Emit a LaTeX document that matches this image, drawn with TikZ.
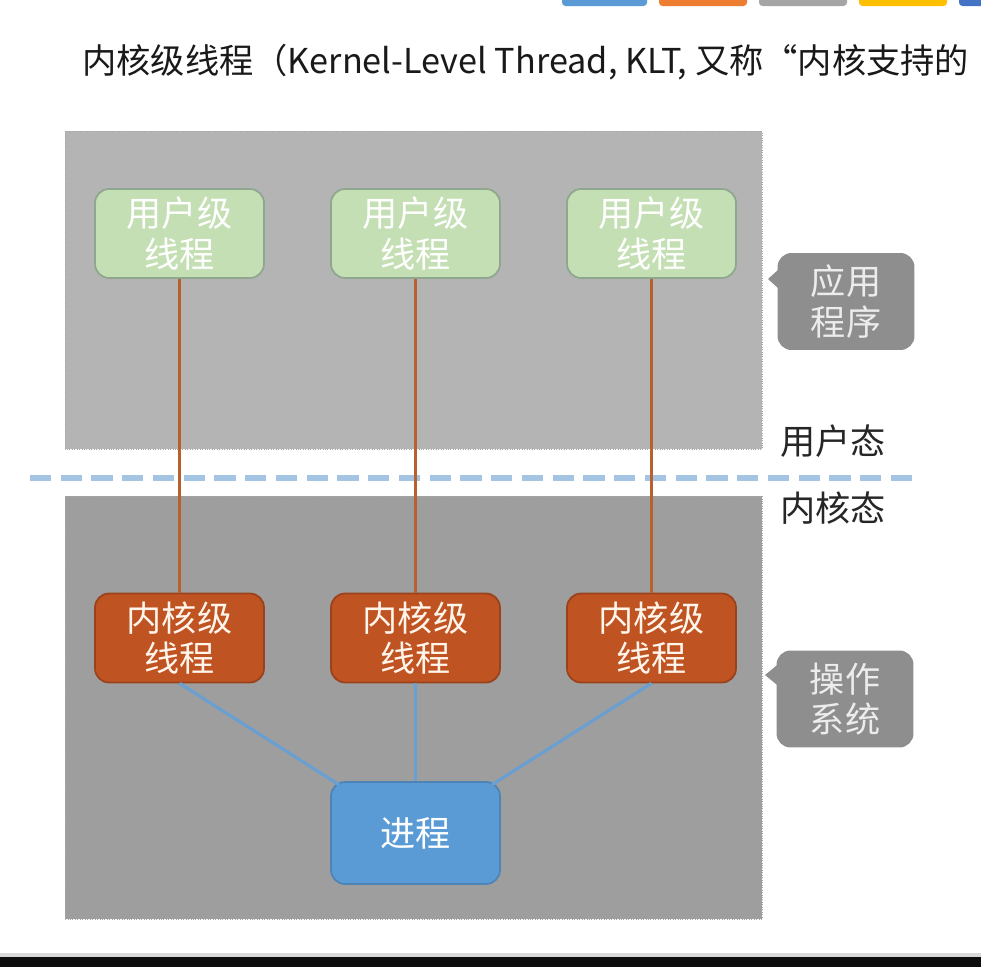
\documentclass[tikz,border=0pt]{standalone}
\usepackage{fontspec}
\setmainfont{Noto Sans CJK SC}
\usetikzlibrary{positioning}

\definecolor{zoneuser}{HTML}{B4B4B4}
\definecolor{zonenoyau}{HTML}{9E9E9E}
\definecolor{vertfond}{HTML}{C5DFB4}
\definecolor{vertbord}{HTML}{8FA68F}
\definecolor{orangek}{HTML}{BF5322}
\definecolor{orangetrait}{HTML}{B9602F}
\definecolor{bleuproc}{HTML}{5B9BD5}
\definecolor{bleutrait}{HTML}{6A9FD2}
\definecolor{bleutiret}{HTML}{A3C4E3}
\definecolor{bulle}{HTML}{8E8E8E}
\definecolor{ongleta}{HTML}{5B9BD5}
\definecolor{ongletb}{HTML}{ED7D31}
\definecolor{ongletc}{HTML}{A5A5A5}
\definecolor{ongletd}{HTML}{FFC000}
\definecolor{onglete}{HTML}{4472C4}

\tikzset{
  ult/.style={draw=vertbord, line width=1pt, fill=vertfond, rounded corners=8pt,
    minimum width=3.38cm, minimum height=1.78cm, align=center, text=white,
    font=\fontsize{20}{23}\selectfont},
  klt/.style={ult, draw=orangek!80!black, fill=orangek, text=white!92!orange},
  procbox/.style={ult, draw=bleuproc!85!black, fill=bleuproc, minimum height=2.04cm},
  bullebox/.style={fill=bulle, rounded corners=8pt,
    minimum width=2.74cm, minimum height=1.94cm, align=center, text=white!85!gray,
    font=\fontsize{20}{23}\selectfont},
  etat/.style={font=\fontsize{20}{23}\selectfont, text=black!85},
}

\begin{document}
\begin{tikzpicture}[x=0.02cm, y=-0.02cm]
	\useasboundingbox (0,0) rectangle (981,967);
	\fill[white] (0,0) rectangle (981,967);
	% les onglets en haut
	\foreach \xa/\xb/\col in {562/647/ongleta, 659/747/ongletb, 759/847/ongletc, 859/947/ongletd, 959/990/onglete}
		\fill[\col, rounded corners=2pt] (\xa,-5) rectangle (\xb,6);
	% le titre
	\node[anchor=west, inner sep=0pt, font=\fontsize{19.5}{24}\selectfont, text=black!90] (titre) at (82,62)
		{内核级线程（Kernel-Level Thread, KLT, 又称“内核支持的};
	% les deux zones
	\fill[zoneuser, draw=gray!70, densely dotted] (65,131) rectangle (762,449);
	\fill[zonenoyau, draw=gray!70, densely dotted] (65,496) rectangle (762,919);
	% la ligne en tirets
	\coordinate (gauche) at (30,478);
	\coordinate (droite) at (920,478);
	\draw[bleutiret, line width=3.4pt, dash pattern=on 12pt off 5.5pt] (gauche) -- (droite);
	\node[etat] (userstate) at (833,441) {用户态};
	\node[etat] (kernelstate) at (833,508) {内核态};
	% les threads
	\node[ult] (u1) at (179.5,233.5) {用户级\\线程};
	\node[ult] (u2) at (415.5,233.5) {用户级\\线程};
	\node[ult] (u3) at (651.5,233.5) {用户级\\线程};
	\node[klt] (k1) at (179.5,638) {内核级\\线程};
	\node[klt] (k2) at (415.5,638) {内核级\\线程};
	\node[klt] (k3) at (651.5,638) {内核级\\线程};
	\node[procbox] (proc) at (415.5,833) {进程};
	% les liens
	\foreach \i in {1,2,3}
		\draw[orangetrait, line width=1.2pt] (u\i.south) -- (k\i.north);
	\draw[bleutrait, line width=1.8pt] (k1.south) -- ([xshift=5pt,yshift=-2pt]proc.north west);
	\draw[bleutrait, line width=1.8pt] (k2.south) -- (proc.north);
	\draw[bleutrait, line width=1.8pt] (k3.south) -- ([xshift=-5pt,yshift=-2pt]proc.north east);
	% les bulles
	\node[bullebox] (appli) at (846,301.5) {应用\\程序};
	\node[bullebox] (os) at (845,699) {操作\\系统};
	\coordinate (pointeA) at (768,279);
	\coordinate (pointeB) at (765,675);
	\fill[bulle] (pointeA) -- ([xshift=2pt,yshift=0.68cm]appli.west) -- ([xshift=2pt,yshift=0.22cm]appli.west) -- cycle;
	\fill[bulle] (pointeB) -- ([xshift=2pt,yshift=0.72cm]os.west) -- ([xshift=2pt,yshift=0.24cm]os.west) -- cycle;
	% le bas de la fenetre
	\fill[gray!30] (0,953) rectangle (981,957);
	\fill[black!95] (0,957) rectangle (981,967);
\end{tikzpicture}
\end{document}
